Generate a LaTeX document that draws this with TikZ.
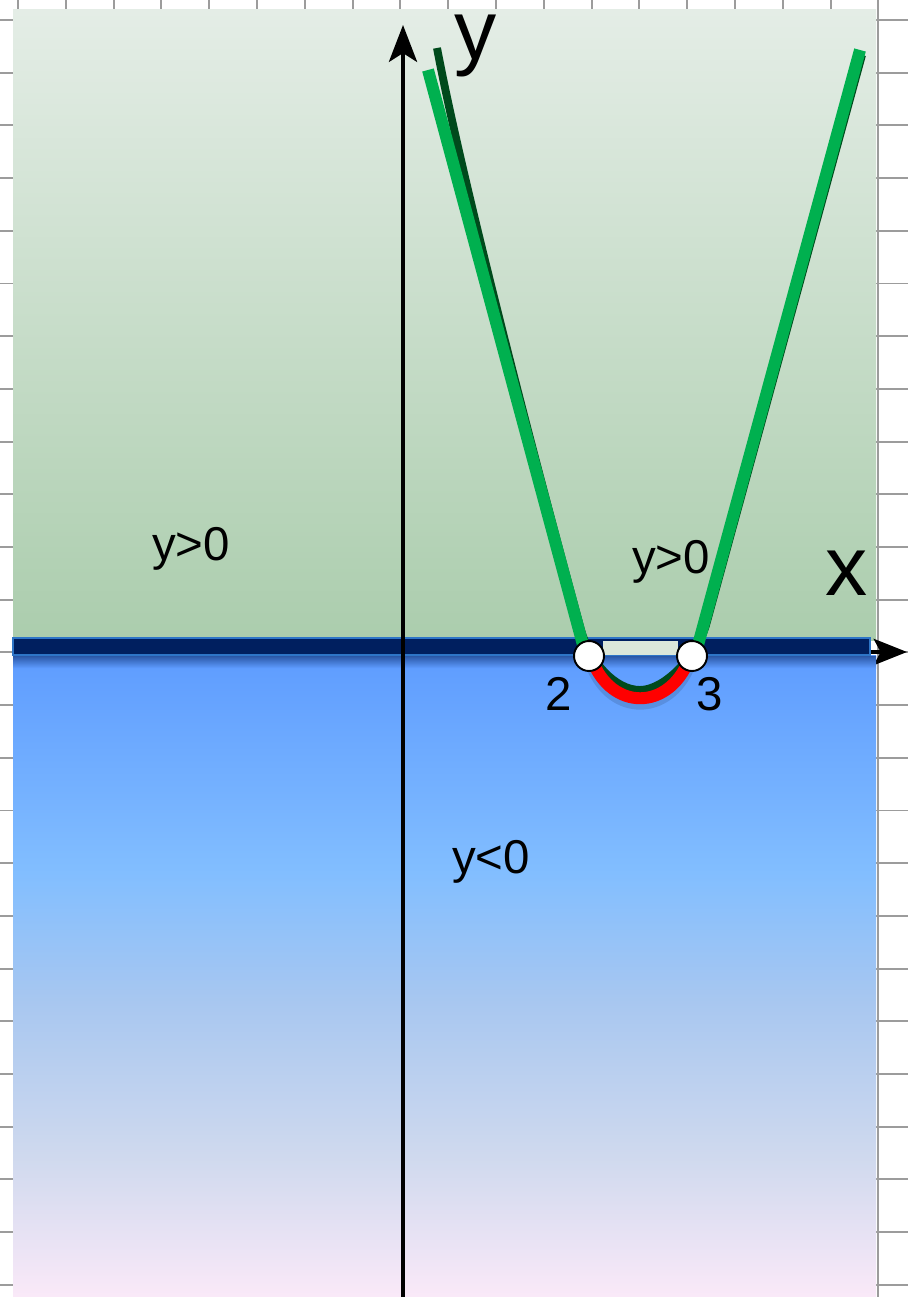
\documentclass[tikz,border=0pt]{standalone}
\usepackage{fontspec}
\setmainfont{Liberation Sans}
\usetikzlibrary{positioning, arrows.meta}

\definecolor{gridgray}{HTML}{9C9C9C}
\definecolor{greentop}{HTML}{E4EDE6}
\definecolor{greenbot}{HTML}{ABCDAD}
\definecolor{navybar}{HTML}{001F5F}
\definecolor{barrim}{HTML}{2E75C7}
\definecolor{gapfill}{HTML}{DCE7DA}
\definecolor{skyc}{HTML}{5E9CFF}
\definecolor{skyb}{HTML}{82BEFF}
\definecolor{skya}{HTML}{A8C7F0}
\definecolor{lavbl}{HTML}{CFD9EE}
\definecolor{pinkbot}{HTML}{FAE9F8}
\definecolor{lightgr}{HTML}{00B04F}
\definecolor{darkgr}{HTML}{004A1C}

\pgfdeclareverticalshading{belowaxis}{100bp}{color(0bp)=(pinkbot); color(25bp)=(pinkbot); color(36bp)=(lavbl); color(48bp)=(skya); color(58bp)=(skyb); color(75bp)=(skyc); color(100bp)=(skyc)}

\begin{document}
\begin{tikzpicture}[x=0.02cm, y=-0.02cm, >=Stealth,
  gridline/.style={draw=gridgray, line width=1.1pt},
  lbl/.style={font=\fontsize{27}{32}\selectfont, anchor=base, inner sep=0pt},
  axlbl/.style={font=\fontsize{48}{56}\selectfont, anchor=base, inner sep=0pt},
  root/.style={draw, circle, fill=white, line width=1.1pt, minimum size=0.6cm, inner sep=0pt}]
	\useasboundingbox[fill=white] (0,0) rectangle (908,1297);
	\foreach \i in {0,...,18}
		\draw[gridline] ({18+47.8*\i},0) -- ({18+47.8*\i},1297);
	\foreach \j in {0,...,24}
		\draw[gridline] (0,{20+52.7*\j}) -- (908,{20+52.7*\j});
	\fill[top color=greentop, bottom color=greenbot] (13,10) rectangle (876,640);
	\fill[shading=belowaxis] (13,655) rectangle (876,1297);
	\coordinate (xl) at (13,652);
	\coordinate (xr) at (907,652);
	\coordinate (yb) at (403,1297);
	\coordinate (yt) at (403,25);
	\coordinate (p2) at (589,656);
	\coordinate (p3) at (692,656);
	\draw[line width=1.8pt, -{Stealth[length=19pt, width=15pt, inset=4pt]}] (xl) -- (xr);
	\draw[fill=navybar, draw=barrim, line width=0.9pt] (13,638) rectangle (870,655);
	\fill[top color=navybar!55!skyc, bottom color=skyc] (13,656) rectangle (876,668);
	\fill[gapfill] (603,641) rectangle (678,655);
	\draw[line width=2.3pt, -{Stealth[length=21pt, width=16pt, inset=5pt]}] (yb) -- (yt);
	\draw[darkgr, line width=4.5pt] (437,48) .. controls (462,180) and (532,450) .. (581,630)
		.. controls (590,662) and (615,690) .. (640,690)
		.. controls (665,690) and (697,655) .. (706,625) -- (862,55);
	\draw[lightgr, line width=6.8pt] (428,70) -- (583,645);
	\draw[lightgr, line width=6.8pt] (698,645) -- (860,50);
	\draw[black, opacity=0.12, line width=7pt] ([shift={(3,10)}]p2) .. controls (612,716) and (668,716) .. ([shift={(-3,10)}]p3);
	\draw[red, line width=6.8pt] ([shift={(3,4)}]p2) .. controls (612,711) and (668,711) .. ([shift={(-3,4)}]p3);
	\node[root] (r2) at (p2) {};
	\node[root] (r3) at (p3) {};
	\node[axlbl] (ylab) at (476,60) {y};
	\node[axlbl] (xlab) at (847,595) {x};
	\node[lbl] (pos1) at (191,560) {y>0};
	\node[lbl] (pos2) at (671,573) {y>0};
	\node[lbl] (neg) at (491,873) {y<0};
	\node[lbl] (two) at (559,710) {2};
	\node[lbl] (three) at (710,710) {3};
\end{tikzpicture}
\end{document}
